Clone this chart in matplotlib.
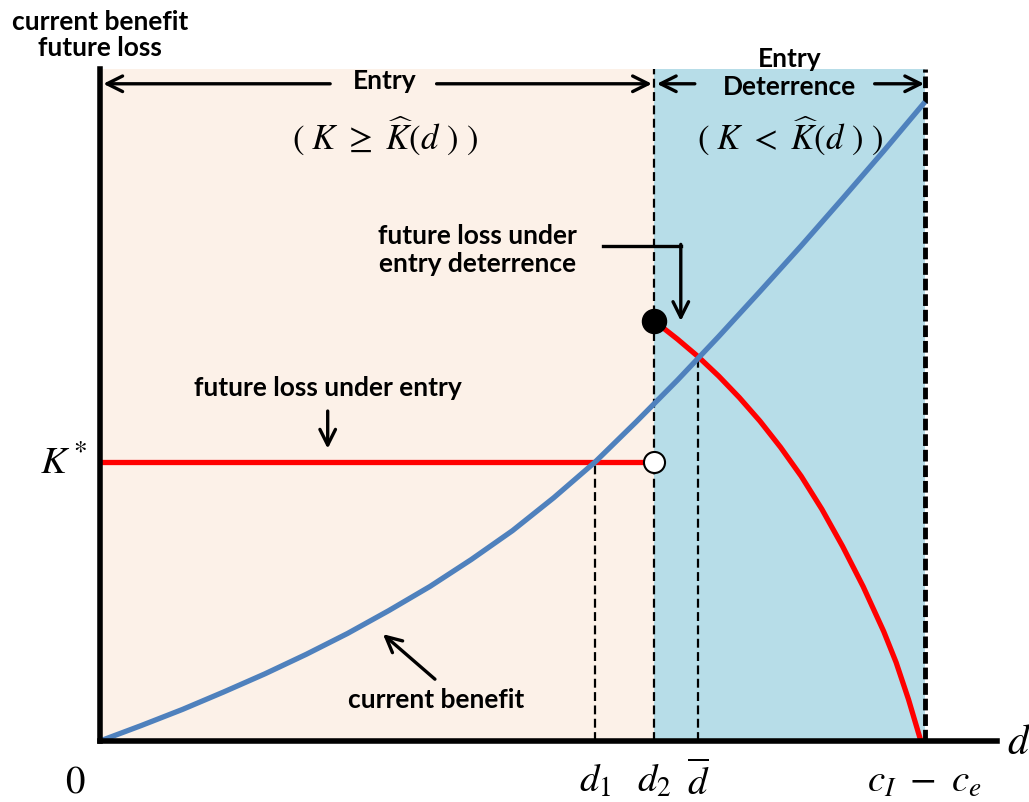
import matplotlib
matplotlib.use("Agg")
import matplotlib.pyplot as plt

# curve data in diagram units (d on x, value on y)
benefit_d = [0, 0.5, 1, 1.5, 2, 2.5, 3, 3.5, 4, 4.5, 5, 5.5, 6, 6.5, 7, 7.5, 8, 8.5, 9, 9.5, 10]
benefit_v = [0, 0.23, 0.47, 0.73, 1.0, 1.29, 1.6, 1.94, 2.3, 2.7, 3.13, 3.62, 4.15,
             4.75, 5.37, 6.02, 6.69, 7.37, 8.07, 8.78, 9.51]

loss_det_d = [6.72, 7.0, 7.25, 7.5, 7.75, 8.0, 8.25, 8.5, 8.75, 9.0, 9.25, 9.5, 9.65, 9.8, 9.95]
loss_det_v = [6.25, 5.98, 5.72, 5.43, 5.11, 4.76, 4.37, 3.94, 3.45, 2.9, 2.3, 1.63, 1.17, 0.62, 0.0]

k_star = 4.15
d1, d2, d_bar, d_max = 6.0, 6.72, 7.25, 10.0
x_end = 10.873

tick_pos = [-0.3, d1, d2, d_bar, d_max]
tick_labels = [r"$0$", r"$d_1$", r"$d_2$", r"$\overline{d}$", r"$c_I\ -\ c_e$"]

BEIGE = "#FCF1E8"
AQUA = "#B7DDE8"
BLUE = "#4F81BD"
RED = "#FF0000"

plt.rcParams["mathtext.fontset"] = "stix"
label_font = dict(family="Lato", weight="bold", fontsize=19)

fig = plt.figure(figsize=(10.29, 8.03), dpi=100)
ax = fig.add_axes([100 / 1029, 61 / 803, 897 / 1029, 672 / 803])
ax.set_xlim(0, x_end)
ax.set_ylim(0, 10)

for side in ["top", "right"]:
    ax.spines[side].set_visible(False)
for side in ["left", "bottom"]:
    ax.spines[side].set_linewidth(4)
    ax.spines[side].set_zorder(6)
ax.set_xticks([])
ax.set_yticks([])

# regions
ax.axvspan(0, d2, color=BEIGE, lw=0, zorder=0)
ax.axvspan(d2, d_max, color=AQUA, lw=0, zorder=0)

# dashed guides
ax.plot([d2, d2], [0, 10], color="black", lw=1.6, ls=(0, (4, 2)), zorder=2)
ax.plot([d1, d1], [0, k_star], color="black", lw=1.6, ls=(0, (4, 2)), zorder=2)
ax.plot([d_bar, d_bar], [0, 5.72], color="black", lw=1.6, ls=(0, (4, 2)), zorder=2)
ax.plot([d_max, d_max], [0, 10], color="black", lw=3.5, ls=(0, (2.4, 0.8)), zorder=2)

# curves
ax.plot(benefit_d, benefit_v, color=BLUE, lw=3.8, zorder=4, solid_capstyle="butt")
ax.plot([0, d2], [k_star, k_star], color=RED, lw=3.8, zorder=3, solid_capstyle="butt")
ax.plot(loss_det_d, loss_det_v, color=RED, lw=3.8, zorder=3, solid_capstyle="butt")

ax.scatter([d2], [loss_det_v[0]], s=300, color="black", zorder=5)
ax.scatter([d2], [k_star], s=230, facecolor="white", edgecolor="black", lw=1.5, zorder=5)

# region arrows along the top
arrow = dict(arrowstyle="->", lw=2.4, color="black", mutation_scale=28,
             shrinkA=0, shrinkB=0)
y_arr = 9.78
ax.annotate("", xy=(0.04, y_arr), xytext=(2.79, y_arr), arrowprops=arrow)
ax.annotate("", xy=(6.69, y_arr), xytext=(4.08, y_arr), arrowprops=arrow)
ax.annotate("", xy=(6.75, y_arr), xytext=(7.21, y_arr), arrowprops=arrow)
ax.annotate("", xy=(9.99, y_arr), xytext=(9.39, y_arr), arrowprops=arrow)

ax.text(3.45, y_arr + 0.05, "Entry", ha="center", va="center", **label_font)
ax.text(8.36, 9.96, "Entry\nDeterrence", ha="center", va="center",
        linespacing=1.2, clip_on=False, **label_font)
ax.text(3.45, 9.03, r"$(\ K\ \geq\ \widehat{K}(d\ )\ )$", ha="center", va="center", fontsize=25)
ax.text(8.36, 9.03, r"$(\ K\ <\ \widehat{K}(d\ )\ )$", ha="center", va="center", fontsize=25)

# curve labels
ax.text(4.58, 7.32, "future loss under\nentry deterrence", ha="center", va="center",
        linespacing=1.2, **label_font)
ax.plot([6.10, 7.04], [7.37, 7.37], color="black", lw=2.4, zorder=5)
ax.annotate("", xy=(7.04, 6.25), xytext=(7.04, 7.39), arrowprops=arrow, zorder=5)

ax.text(2.76, 5.27, "future loss under entry", ha="center", va="center", **label_font)
ax.annotate("", xy=(2.76, 4.35), xytext=(2.76, 4.91), arrowprops=arrow)

ax.text(4.07, 0.62, "current benefit", ha="center", va="center", **label_font)
ax.annotate("", xy=(3.43, 1.59), xytext=(4.06, 0.92), arrowprops=arrow)

# axis labels
ax.text(-0.15, k_star, r"$K^*$", ha="right", va="center", fontsize=28)
for pos, lab in zip(tick_pos, tick_labels):
    ax.text(pos, -0.3, lab, ha="center", va="top", fontsize=28, clip_on=False)
ax.text(x_end + 0.12, 0.0, r"$d$", ha="left", va="center", fontsize=30, clip_on=False)
fig.text(100 / 1029, 1 - 35 / 803, "current benefit\nfuture loss", ha="center", va="center",
         linespacing=1.1, **label_font)

fig.savefig("out.png", dpi=100)
